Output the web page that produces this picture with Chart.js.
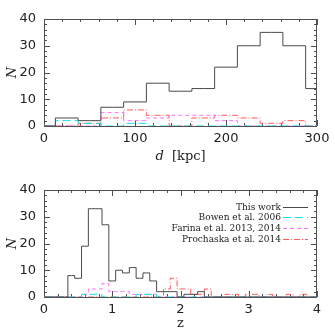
<!DOCTYPE html>
<html>
<head>
<meta charset="utf-8">
<script src="https://cdn.jsdelivr.net/npm/chart.js@4.4.1/dist/chart.umd.min.js"></script>
<style>
html,body{margin:0;padding:0;background:#fff;}
#wrap{position:relative;width:335px;height:335px;}
#c1{position:absolute;left:0;top:0;}
#c2{position:absolute;left:0;top:170px;}
</style>
</head>
<body>
<div id="wrap">
<canvas id="c1" width="335" height="170"></canvas>
<canvas id="c2" width="335" height="165"></canvas>
</div>
<script>
// ---- Top panel: distance histogram (bin centres, kpc) ----
const dKpc       = [0, 25, 50, 75, 100, 125, 150, 175, 200, 225, 250, 275, 300];
const dThisWork  = [0, 3, 2, 7, 9, 16, 13, 14, 22, 30, 35, 30, 14];
const dBowen     = [0, 2, 1, 0, 1, 0, 0, 0, 0, 0, 0, 0, 0];
const dFarina    = [0, 0, 0, 5, 2, 3, 4, 4, 2, 0, 0, 0, 0];
const dProchaska = [0, 0, 1, 3, 6, 4, 0, 3, 4, 3, 1, 2, 0];

// ---- Bottom panel: redshift histogram (bin centres) ----
const zBins = [0.0,0.1,0.2,0.3,0.4,0.5,0.6,0.7,0.8,0.9,1.0,1.1,1.2,1.3,1.4,1.5,1.6,1.7,1.8,1.9,2.0,
               2.1,2.2,2.3,2.4,2.5,2.6,2.7,2.8,2.9,3.0,3.1,3.2,3.3,3.4,3.5,3.6,3.7,3.8,3.9,4.0];
const zThisWork  = [0,0,0,0,8,7,19,33,33,27,6,10,9,11,7,9,6,2,2,2,0,1,1,2,0,0,0,0,0,0,0,0,0,0,0,0,0,0,0,0,0];
const zBowen     = [0,0,0,0,0,0,1,1,1,0,0,0,0,0,1,1,1,0,0,0,0,0,0,0,0,0,0,0,0,0,0,0,0,0,0,0,0,0,0,0,0];
const zFarina    = [0,0,0,0,0,0,1,3,3,5,2,2,2,1,1,1,1,0,0,0,0,0,0,0,0,0,0,0,0,0,0,0,0,0,0,0,0,0,0,0,0];
const zProchaska = [0,0,0,0,0,0,0,0,0,0,0,0,0,0,0,0,0,0,3,7,3,3,1,1,3,0,0,1,1,0,1,1,0,1,0,0,1,0,1,0,0];

const seriesNames = ['This work', 'Bowen et al. 2006', 'Farina et al. 2013, 2014', 'Prochaska et al. 2014'];
const dTicks = [0, 100, 200, 300];
const zTicks = [0, 1, 2, 3, 4];
const nTicks = [0, 10, 20, 30, 40];

const styles = [
  {color:'#4a4a4a', dash:[]},
  {color:'#10e0e8', dash:[8,4]},
  {color:'#ff70ff', dash:[4,3]},
  {color:'#ff5a5a', dash:[6,2,1,2]}
];

function mkDatasets(xs, ys) {
  return ys.map((arr, i) => ({
    label: seriesNames[i],
    data: arr.map((v, k) => ({x: xs[k], y: v})),
    borderColor: styles[i].color,
    borderDash: styles[i].dash.slice(),
    borderWidth: 1,
    pointRadius: 0,
    fill: false,
    stepped: 'middle',
    tension: 0
  }));
}

const frameColor = '#505050';
function framePlugin(opts) {
  return {
    id: 'frame',
    beforeDatasetsDraw(chart) {
      const {ctx, chartArea: a, scales} = chart;
      const xs = scales.x, ys = scales.y;
      ctx.save();
      ctx.setLineDash([]);
      ctx.strokeStyle = frameColor;
      ctx.lineWidth = 1;
      ctx.strokeRect(Math.round(a.left)+0.5, Math.round(a.top)+0.5,
                     Math.round(a.right-a.left)-1, Math.round(a.bottom-a.top));
      ctx.beginPath();
      const nx = Math.round((xs.max - xs.min) / opts.xMinor);
      for (let k = 0; k <= nx; k++) {
        const v = xs.min + k * opts.xMinor;
        const isMajor = Math.abs(v / opts.xMajor - Math.round(v / opts.xMajor)) < 1e-6;
        const len = isMajor ? 6 : 3;
        const px = Math.round(xs.getPixelForValue(v)) + 0.5;
        ctx.moveTo(px, a.bottom); ctx.lineTo(px, a.bottom - len);
        ctx.moveTo(px, a.top); ctx.lineTo(px, a.top + len);
      }
      const ny = Math.round((ys.max - ys.min) / opts.yMinor);
      for (let k = 0; k <= ny; k++) {
        const v = ys.min + k * opts.yMinor;
        const isMajor = Math.abs(v / opts.yMajor - Math.round(v / opts.yMajor)) < 1e-6;
        const len = isMajor ? 6 : 3;
        const py = Math.round(ys.getPixelForValue(v)) + 0.5;
        ctx.moveTo(a.left, py); ctx.lineTo(a.left + len, py);
        ctx.moveTo(a.right, py); ctx.lineTo(a.right - len, py);
      }
      ctx.stroke();
      ctx.restore();
    },
    afterDraw(chart) {
      const {ctx, chartArea: a} = chart;
      ctx.save();
      ctx.fillStyle = '#222';
      ctx.font = 'italic 13px "DejaVu Serif"';
      ctx.textAlign = 'center';
      ctx.textBaseline = 'middle';
      ctx.translate(12.5, (a.top + a.bottom) / 2);
      ctx.rotate(-Math.PI / 2);
      ctx.fillText('N', 0, 0);
      ctx.restore();
      ctx.save();
      ctx.fillStyle = '#222';
      ctx.textBaseline = 'alphabetic';
      const cx = (a.left + a.right) / 2;
      const by = a.bottom + opts.titleGap;
      let total = 0;
      const widths = opts.xTitleParts.map(p => { ctx.font = p.font; const w = ctx.measureText(p.text).width; total += w; return w; });
      let x = cx - total / 2;
      ctx.textAlign = 'left';
      opts.xTitleParts.forEach((p, i) => { ctx.font = p.font; ctx.fillText(p.text, x, by); x += widths[i]; });
      ctx.restore();
      if (opts.legend) {
        seriesNames.forEach((name, i) => {
          const y = Math.round(a.top + 16.5 + i * 10.7) + 0.5;
          ctx.save();
          ctx.font = '9px "DejaVu Serif"';
          ctx.textAlign = 'right';
          ctx.textBaseline = 'middle';
          ctx.fillStyle = '#222';
          ctx.fillText(name, a.right - 36, y + 0.5);
          ctx.strokeStyle = styles[i].color;
          ctx.setLineDash(styles[i].dash);
          ctx.lineWidth = 1;
          ctx.beginPath();
          ctx.moveTo(a.right - 34, y);
          ctx.lineTo(a.right - 9, y);
          ctx.stroke();
          ctx.restore();
        });
      }
    }
  };
}

function mkOptions(xmin, xmax, xTickVals, xHeight, padTop) {
  return {
    responsive: false,
    animation: false,
    events: [],
    layout: {padding: {top: padTop, right: 18, left: 0, bottom: 0}},
    plugins: {legend: {display: false}, tooltip: {enabled: false}},
    scales: {
      x: {
        type: 'linear', min: xmin, max: xmax,
        afterBuildTicks: s => { s.ticks = xTickVals.map(v => ({value: v})); },
        afterFit: s => { s.height = xHeight; },
        grid: {display: false, drawTicks: false},
        border: {display: false},
        ticks: {font: {family: 'DejaVu Sans', size: 13}, color: '#222', padding: 5, maxRotation: 0, autoSkip: false}
      },
      y: {
        type: 'linear', min: 0, max: 40,
        afterBuildTicks: s => { s.ticks = nTicks.map(v => ({value: v})); },
        afterFit: s => { s.width = 44; },
        grid: {display: false, drawTicks: false},
        border: {display: false},
        ticks: {font: {family: 'DejaVu Sans', size: 13}, color: '#222', padding: 8}
      }
    }
  };
}

new Chart(document.getElementById('c1'), {
  type: 'line',
  data: {datasets: mkDatasets(dKpc, [dThisWork, dBowen, dFarina, dProchaska])},
  options: mkOptions(0, 300, dTicks, 44, 19),
  plugins: [framePlugin({xMinor: 20, xMajor: 100, yMinor: 2, yMajor: 10, titleGap: 34,
    xTitleParts: [{text: 'd', font: 'italic 13px "DejaVu Serif"'}, {text: '  [kpc]', font: '13px "DejaVu Serif"'}]})]
});

new Chart(document.getElementById('c2'), {
  type: 'line',
  data: {datasets: mkDatasets(zBins, [zThisWork, zBowen, zFarina, zProchaska])},
  options: mkOptions(0, 4, zTicks, 38, 20),
  plugins: [framePlugin({xMinor: 0.2, xMajor: 1, yMinor: 2, yMajor: 10, titleGap: 30, legend: true,
    xTitleParts: [{text: 'z', font: '13px "DejaVu Serif"'}]})]
});
</script>
</body>
</html>
